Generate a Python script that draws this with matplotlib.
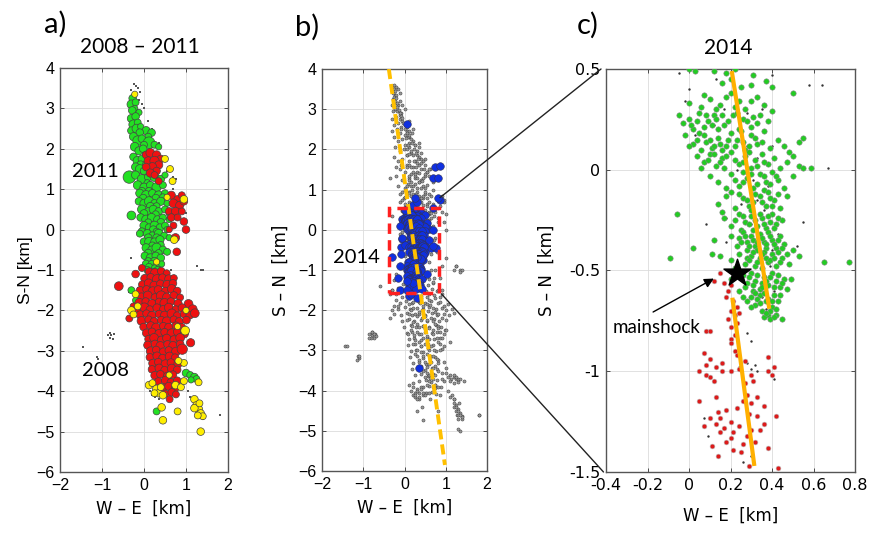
import matplotlib
matplotlib.use('Agg')
import matplotlib.pyplot as plt
from matplotlib.patches import Rectangle, ConnectionPatch, FancyArrowPatch

#------------------------------------------------------------------------------
# panel a) events 2008-2011 (x, y, marker size)
a_green = [(-0.27,3.25,30),(-0.3,3.1,40),(-0.2,3.15,25),(-0.22,3.0,20),(-0.28,2.95,30),(-0.12,2.9,20),
           (-0.3,2.75,35),(-0.2,2.8,30),(-0.25,2.6,45),(-0.15,2.65,25),(-0.3,2.45,30),(-0.18,2.5,40),
           (-0.08,2.55,20),(0.05,2.45,35),(0.18,2.4,30),(0.1,2.3,25),(-0.1,2.4,30),(-0.25,2.3,35),
           (-0.15,2.2,50),(-0.05,2.25,30),(0.12,2.15,70),(0.25,2.1,25),(0.35,2.05,20),(0.0,2.1,25),
           (-0.22,2.05,40),(-0.12,1.95,35),(-0.02,2.0,30),(0.05,1.85,25),(-0.25,1.8,30),(-0.15,1.7,45),
           (-0.05,1.75,30),(-0.08,1.6,35),(0.05,1.6,30),(-0.2,1.55,35),(-0.1,1.5,40),(0.0,1.45,30),
           (-0.35,1.3,80),(-0.2,1.35,35),(-0.05,1.25,45),(0.1,1.3,30),(0.25,1.3,40),(0.4,1.25,30),
           (0.5,1.35,20),(0.08,1.15,25),(-0.15,1.1,40),(0.0,1.05,35),(0.15,1.1,30),(0.3,1.05,45),
           (0.45,1.1,25),(-0.05,0.95,30),(0.12,0.95,30),(-0.1,0.9,35),(0.05,0.85,45),(0.2,0.9,30),
           (0.35,0.85,40),(0.5,0.9,25),(0.28,0.78,30),(0.45,0.8,25),(-0.02,0.78,30),(-0.12,0.7,30),
           (0.0,0.65,35),(0.12,0.7,45),(0.25,0.65,30),(0.4,0.7,35),(0.55,0.65,20),(0.15,0.58,30),
           (0.3,0.58,25),(-0.05,0.5,40),(0.1,0.45,30),(0.22,0.5,35),(0.35,0.45,30),(0.5,0.5,25),
           (0.6,0.4,20),(0.0,0.4,30),(0.28,0.38,25),(-0.3,0.35,40),(-0.08,0.3,30),(0.05,0.25,40),
           (0.18,0.3,35),(0.32,0.25,30),(0.45,0.3,25),(0.6,0.25,20),(0.4,0.18,30),(0.1,0.18,25),
           (0.0,0.1,35),(0.12,0.05,30),(0.25,0.1,40),(0.38,0.05,30),(0.5,0.1,25),(0.55,0.0,20),
           (0.22,0.0,30),(0.3,-0.05,25),(-0.05,-0.05,30),(-0.1,-0.1,25),(0.08,-0.1,35),(0.2,-0.15,30),
           (0.35,-0.1,40),(0.48,-0.15,25),(0.1,-0.2,30),(0.3,-0.2,30),(0.6,-0.2,20),(0.0,-0.3,30),
           (0.12,-0.3,40),(0.25,-0.3,30),(0.38,-0.25,35),(0.2,-0.4,30),(0.4,-0.38,25),(0.05,-0.45,35),
           (0.18,-0.5,30),(0.3,-0.45,45),(0.45,-0.5,30),(0.55,-0.55,25),(0.1,-0.58,30),(0.35,-0.58,25),
           (0.02,-0.65,30),(0.15,-0.7,35),(0.28,-0.65,30),(0.4,-0.7,30),(0.1,-0.78,25),(0.25,-0.78,30),
           (0.05,-0.85,30),(0.18,-0.85,25),(0.3,-0.9,30),(0.42,-0.85,20),(0.12,-0.92,25),(0.25,-0.95,20),
           (0.08,-1.0,25),(0.2,-1.05,30),(0.32,-1.0,25),(0.15,-1.2,20),(0.3,-1.15,25),
           (-0.3,-1.5,25),(-0.2,-1.75,20),(1.0,-3.55,30),(1.1,-3.6,25),(1.2,-3.65,30),(1.25,-3.7,25),
           (1.12,-3.72,20),(0.3,-4.5,25)]

a_red = [(0.05,1.85,30),(0.15,1.9,40),(0.3,1.85,35),(0.4,1.75,30),(0.1,1.7,35),(0.25,1.7,45),
         (0.35,1.6,35),(0.2,1.55,40),(0.05,1.55,30),(0.3,1.45,30),(0.15,1.4,35),(0.25,1.35,25),
         (0.35,1.2,25),(0.65,0.85,35),(0.8,0.75,30),(0.9,0.85,25),(0.7,0.65,40),(0.85,0.6,35),
         (0.95,0.7,30),(0.6,0.45,30),(0.75,0.45,35),(0.9,0.45,25),(0.65,0.3,30),(0.8,0.3,25),
         (0.95,0.2,30),(1.0,0.0,30),(0.7,0.1,25),(0.75,-0.2,35),(0.78,-0.55,30),(0.6,0.0,20),
         (-0.6,-1.4,40),(-0.2,-1.1,30),(-0.05,-0.95,25),(-0.25,-1.9,25),(-0.35,-2.2,25),
         (0.12,-1.04,30),(0.26,-1.07,40),(0.41,-1.03,30),(0.54,-1.08,25),
         (0.02,-1.21,35),(0.16,-1.18,30),(0.31,-1.23,45),(0.44,-1.19,30),(0.59,-1.22,35),(0.71,-1.2,25),
         (-0.04,-1.36,30),(0.11,-1.33,40),(0.24,-1.38,35),(0.39,-1.34,30),(0.56,-1.37,45),(0.69,-1.33,30),
         (-0.09,-1.51,35),(0.06,-1.48,30),(0.21,-1.53,45),(0.34,-1.49,35),(0.51,-1.52,30),(0.66,-1.47,40),(0.79,-1.52,30),
         (-0.06,-1.66,30),(0.09,-1.63,40),(0.26,-1.68,30),(0.41,-1.64,50),(0.54,-1.67,35),(0.71,-1.63,30),(0.86,-1.68,25),
         (-0.11,-1.81,40),(0.04,-1.78,30),(0.19,-1.83,35),(0.36,-1.79,30),(0.49,-1.82,45),(0.64,-1.78,30),(0.81,-1.83,35),(1.06,-1.84,40),
         (-0.16,-1.96,30),(0.01,-1.93,45),(0.14,-1.98,30),(0.31,-1.94,35),(0.46,-1.97,30),(0.59,-1.93,40),(0.76,-1.98,30),(0.91,-1.94,35),(1.16,-1.97,40),
         (-0.09,-2.11,35),(0.06,-2.08,30),(0.19,-2.13,40),(0.36,-2.09,30),(0.49,-2.12,35),(0.66,-2.08,45),(0.79,-2.13,30),(0.96,-2.09,35),(1.09,-2.12,30),(1.21,-2.07,40),
         (-0.06,-2.26,40),(0.11,-2.23,30),(0.24,-2.28,35),(0.41,-2.24,30),(0.54,-2.27,40),(0.71,-2.23,30),(0.84,-2.28,35),(1.01,-2.24,30),
         (-0.01,-2.41,30),(0.16,-2.38,35),(0.29,-2.43,45),(0.46,-2.39,30),(0.59,-2.42,35),(0.76,-2.38,30),(0.89,-2.43,40),
         (0.06,-2.56,35),(0.19,-2.53,30),(0.36,-2.58,40),(0.49,-2.54,30),(0.66,-2.57,45),(0.79,-2.53,30),(0.96,-2.58,35),
         (0.11,-2.71,30),(0.24,-2.68,40),(0.41,-2.73,30),(0.54,-2.69,35),(0.71,-2.72,30),(0.86,-2.68,40),(1.11,-2.8,35),
         (0.09,-2.86,35),(0.26,-2.83,30),(0.39,-2.88,40),(0.56,-2.84,30),(0.69,-2.87,35),(0.86,-2.83,30),
         (0.16,-3.01,40),(0.29,-2.98,30),(0.46,-3.03,35),(0.59,-2.99,30),(0.76,-3.02,40),(0.91,-2.96,55),
         (0.14,-3.16,30),(0.31,-3.13,35),(0.44,-3.18,30),(0.61,-3.14,40),(0.74,-3.17,30),
         (0.21,-3.31,35),(0.34,-3.28,30),(0.51,-3.33,40),(0.64,-3.29,30),(0.81,-3.32,35),
         (0.19,-3.46,30),(0.36,-3.43,35),(0.49,-3.48,30),(0.66,-3.44,40),(0.79,-3.47,30),
         (0.26,-3.61,35),(0.39,-3.58,30),(0.56,-3.63,35),(0.69,-3.59,30),
         (0.34,-3.76,30),(0.51,-3.73,35),(0.64,-3.78,30),(0.79,-3.74,30),
         (0.46,-3.91,30),(0.59,-3.88,35),(0.74,-3.93,30),(0.51,-4.06,25),(0.66,-4.03,30),(0.76,-4.08,25),(0.61,-4.2,25)]

a_yellow = [(0.12,-3.85,30),(0.2,-3.8,25),(0.3,-3.95,35),(0.35,-4.05,30),(0.4,-3.9,25),(0.45,-4.1,30),
            (0.25,-4.05,25),(0.42,-4.4,30),(0.45,-4.72,30),(0.8,-4.5,25),(0.75,-3.85,30),(0.88,-3.9,25),
            (0.95,-3.75,25),(1.3,-3.78,25),(1.2,-4.2,30),(1.25,-4.35,30),(1.3,-4.45,35),(1.2,-4.42,30),
            (1.35,-4.55,30),(1.4,-4.62,25),(1.28,-4.6,25),(1.32,-4.3,25),(1.35,-5.0,30),(0.98,-2.5,40),
            (0.95,-3.3,25),(0.82,-3.25,25),(-0.2,-1.6,25),(-0.15,-1.9,25),(-0.3,-2.0,30),(-0.25,-2.1,25),
            (0.6,-3.6,20),(0.5,1.75,25),(0.62,1.5,25),(0.68,1.2,25),(0.55,0.8,20),(0.95,0.75,30),
            (0.72,-0.25,30),(-0.22,3.35,20),(0.3,-0.8,20),(1.0,-2.0,20),(0.8,-2.4,20)]

a_gray = [(-0.25,3.6),(-0.2,3.55),(-0.15,3.5),(-0.1,3.4),(-0.3,3.45),(-0.12,3.2),(-0.05,3.1),(-0.08,2.9),
          (0.0,3.0),(0.1,2.7),(0.2,2.5),(0.35,2.15),(0.6,1.5),(0.7,1.3),(0.75,1.25),(0.55,1.45),(0.7,1.0),
          (0.55,0.25),(1.0,0.4),(-0.3,-0.7),(-0.8,-2.55),(-0.78,-2.62),(-0.85,-2.6),(-0.75,-2.7),
          (-0.82,-2.68),(-0.72,-2.58),(-1.1,-3.2),(-1.12,-3.15),(-1.45,-2.9),(1.25,-0.9),(1.35,-1.0),
          (1.4,-1.0),(0.65,-1.0),(1.8,-4.6),(-0.3,-1.5),(-0.35,-1.55),(-0.15,-1.45),(0.2,-4.1),
          (0.25,-4.15),(0.35,-4.2),(0.15,-4.0),(1.2,-3.6),(1.3,-3.7),(1.05,-4.0),(1.1,-4.15),
          (1.25,-4.5),(1.3,-4.6),(1.4,-4.7)]

#------------------------------------------------------------------------------
# panel b) extra relocated events and 2014 events outside the zoom box
b_gray = [(-0.3,3.55),(-0.28,3.4),(-0.25,3.3),(-0.22,3.2),(-0.2,3.35),(-0.15,3.1),(-0.18,2.95),(-0.12,2.85),
          (-0.1,2.75),(-0.05,2.7),(0.0,2.6),(0.05,2.55),(0.1,2.45),(-0.08,2.5),(0.0,2.35),(0.08,2.3),
          (0.15,2.25),(0.2,2.2),(0.25,2.1),(0.12,2.05),(0.05,2.0),(0.3,1.95),(0.4,1.9),(0.2,1.85),
          (0.35,1.8),(0.45,1.7),(0.5,1.6),(0.3,1.65),(0.15,1.55),(0.4,1.5),(0.55,1.45),(0.25,1.4),
          (0.6,1.35),(0.45,1.3),(0.1,1.25),(0.35,1.2),(0.2,1.1),(0.5,1.05),(0.0,1.0),(0.3,0.95),
          (0.6,0.9),(0.15,0.85),(0.4,0.8),(-0.05,0.75),(0.25,0.7),(0.55,0.6),(0.05,0.55),(0.2,0.4),
          (0.45,0.35),(0.3,0.15),(0.0,-0.2),(0.4,-0.5),(0.6,-0.8),(0.5,-1.2),(0.7,-1.3),(0.8,-1.5),
          (0.9,-1.6),(0.6,-1.6),(0.1,-1.7),(0.2,-1.8),(0.3,-1.75),(0.45,-1.9),(0.55,-1.85),(0.7,-1.95),
          (0.15,-2.0),(0.25,-2.1),(0.35,-2.05),(0.5,-2.15),(0.65,-2.2),(0.8,-2.1),(0.05,-2.25),(0.2,-2.3),
          (0.3,-2.35),(0.45,-2.4),(0.6,-2.45),(0.75,-2.35),(0.15,-2.5),(0.3,-2.55),(0.4,-2.6),(0.55,-2.65),
          (0.7,-2.6),(0.85,-2.55),(0.25,-2.75),(0.35,-2.8),(0.5,-2.85),(0.65,-2.9),(0.8,-2.8),(0.3,-3.0),
          (0.4,-3.05),(0.55,-3.1),(0.7,-3.15),(0.35,-3.25),(0.5,-3.3),(0.6,-3.35),(0.75,-3.4),(0.45,-3.5),
          (0.55,-3.55),(0.65,-3.6),(0.7,-3.7),(0.6,-3.75),(0.75,-3.85),(0.2,-3.9),(0.3,-4.0),(0.45,-4.05),
          (0.25,-4.1),(0.35,-4.15),(0.8,-3.9),(0.9,-3.7),(1.05,-3.65),(1.1,-3.75),(1.2,-3.8),(1.35,-3.7),
          (1.45,-3.75),(1.25,-3.65),(1.2,-4.3),(1.25,-4.4),(1.3,-4.5),(1.35,-4.6),(1.4,-4.65),(1.3,-4.7),
          (1.2,-4.2),(1.15,-4.1),(1.8,-4.6),(1.3,-4.95),(-1.4,-2.9),(-1.1,-3.15),(-1.15,-3.25),(-0.8,-2.55),
          (-0.75,-2.6),(-0.7,-2.65),(-0.85,-2.7),(1.25,-0.9),(1.35,-1.05),(1.2,-1.0),(-0.25,-1.25),
          (-0.35,-1.6),(0.9,-1.5),(1.0,-0.7),
          (-0.26,3.5),(-0.24,3.45),(-0.21,3.28),(-0.19,3.15),(-0.17,3.05),(-0.14,2.98),(-0.11,2.9),(-0.09,2.82),
          (-0.06,2.78),(-0.03,2.65),(0.02,2.5),(0.06,2.4),(0.12,2.35),(0.03,2.28),(0.18,2.15),(0.08,2.12),
          (0.22,2.02),(0.15,1.95),(0.28,1.9),(0.1,1.88),(0.32,1.75),(0.22,1.72),(0.4,1.65),(0.12,1.62),
          (0.28,1.55),(0.48,1.52),(0.2,1.45),(0.35,1.42),(0.5,1.38),(0.1,1.35),(0.3,1.3),(0.42,1.22),
          (0.15,1.18),(0.25,1.15),(0.55,1.12),(0.05,1.1),(0.4,1.05),(0.18,0.98),(0.5,0.95),(0.1,0.92),
          (0.28,0.88),(0.45,0.85),(0.0,0.82),(0.35,0.75),(0.2,0.72),(0.6,0.7),(0.1,0.65),(0.45,0.62),(0.3,0.6),
          (0.05,-1.6),(0.25,-1.65),(0.4,-1.7),(0.6,-1.75),(0.75,-1.7),(0.1,-1.85),(0.38,-1.82),(0.62,-1.88),
          (0.85,-1.8),(0.2,-1.95),(0.42,-2.0),(0.58,-2.02),(0.75,-2.05),(0.1,-2.1),(0.3,-2.15),(0.42,-2.2),
          (0.55,-2.25),(0.7,-2.28),(0.9,-2.2),(0.18,-2.4),(0.35,-2.42),(0.5,-2.48),(0.68,-2.5),(0.82,-2.45),
          (0.08,-2.6),(0.22,-2.62),(0.45,-2.7),(0.6,-2.72),(0.78,-2.68),(0.9,-2.7),(0.2,-2.85),(0.4,-2.9),
          (0.58,-2.95),(0.72,-2.98),(0.85,-3.0),(0.25,-3.1),(0.45,-3.15),(0.62,-3.2),(0.78,-3.22),(0.4,-3.4),
          (0.55,-3.42),(0.68,-3.45),(0.82,-3.5),(0.5,-3.65),(0.62,-3.68),(0.75,-3.62),(0.55,-3.85),(0.68,-3.9),
          (0.4,-3.95),(0.5,-4.1),(0.3,-4.2),(0.6,-4.05),(0.85,-4.1),(0.9,-3.55),(1.0,-3.45),(0.95,-2.9),
          (1.0,-2.5),(0.95,-1.9),(0.85,-1.2),(0.75,-1.0),(0.9,-0.9),(0.65,-0.6),(0.72,0.35),(0.8,0.2)]

b_blue = [(0.05,2.62),(0.75,1.55),(0.85,1.58),(0.7,1.3),(0.8,1.28),(0.85,0.75),(0.8,0.78),(0.7,0.55),
          (-0.3,-0.68),(0.35,-3.45),(0.7,-0.4),(0.68,0.0),(-0.1,-1.5),(-0.15,-1.2),(0.05,-1.5),(0.55,-1.1),
          (-0.05,-0.2),(-0.08,-0.6),(0.0,0.5),(0.1,-1.65),(0.2,0.62),(0.3,0.7),(0.25,0.8),(0.15,-1.6),
          (0.3,-1.7),(-0.12,0.1),(-0.1,-0.9),(0.6,-0.25)]

fault_b_x = [-0.38, 0.98]
fault_b_y = [4.0, -5.85]

zoom_box_x = [-0.38, 0.84]
zoom_box_y = [-1.58, 0.53]

#------------------------------------------------------------------------------
# panel c) 2014 sequence
c_green = [(0.0,0.5),(0.03,0.49),(0.12,0.49),(0.18,0.48),(0.22,0.5),(0.31,0.47),(0.37,0.44),(0.3,0.42),
           (0.2,0.45),(0.25,0.41),(0.16,0.43),(0.4,0.41),(0.5,0.38),
           (-0.05,0.27),(0.0,0.33),(0.07,0.37),(0.1,0.35),(0.15,0.32),(0.2,0.38),(0.24,0.34),(0.27,0.3),
           (0.33,0.36),(0.36,0.32),(0.3,0.34),(0.22,0.31),(0.18,0.36),(0.06,0.31),(0.13,0.3),
           (-0.03,0.23),(0.0,0.25),(0.05,0.28),(0.09,0.24),(0.12,0.27),(0.17,0.22),(0.21,0.27),(0.26,0.25),
           (0.3,0.21),(0.34,0.27),(0.38,0.24),(0.24,0.2),(0.14,0.2),(0.07,0.21),(0.4,0.29),(0.33,0.23),(0.02,0.2),
           (-0.02,0.17),(0.02,0.13),(0.05,0.18),(0.08,0.14),(0.11,0.11),(0.14,0.16),(0.18,0.12),(0.2,0.18),
           (0.23,0.15),(0.27,0.1),(0.3,0.17),(0.33,0.13),(0.36,0.19),(0.39,0.11),(0.43,0.15),(0.46,0.12),
           (0.53,0.14),(0.55,0.16),(0.48,0.09),(0.06,0.1),(0.16,0.1),(0.25,0.19),
           (0.04,0.07),(0.07,0.04),(0.1,0.08),(0.13,0.02),(0.16,0.06),(0.2,0.09),(0.24,0.03),(0.27,0.07),
           (0.3,0.01),(0.32,0.05),(0.35,0.08),(0.38,0.03),(0.41,0.06),(0.44,0.01),(0.47,0.04),(0.53,0.02),
           (0.55,0.01),(0.59,0.01),(0.5,0.07),(0.17,0.01),
           (0.1,-0.03),(0.14,-0.06),(0.2,-0.02),(0.24,-0.08),(0.28,-0.04),(0.31,-0.09),(0.34,-0.02),(0.37,-0.06),
           (0.4,-0.01),(0.43,-0.05),(0.46,-0.09),(0.5,-0.03),(0.26,-0.01),(0.18,-0.09),(0.36,-0.1),
           (0.14,-0.17),(0.18,-0.13),(0.22,-0.19),(0.26,-0.14),(0.29,-0.18),(0.32,-0.12),(0.35,-0.16),(0.38,-0.11),
           (0.41,-0.15),(0.44,-0.19),(0.47,-0.13),(0.2,-0.11),(0.3,-0.2),(0.16,-0.21),(0.4,-0.18),
           (-0.06,-0.22),(0.17,-0.24),(0.2,-0.28),(0.24,-0.22),(0.27,-0.26),(0.3,-0.23),(0.33,-0.28),(0.35,-0.24),
           (0.37,-0.29),(0.4,-0.22),(0.42,-0.27),(0.45,-0.25),(0.25,-0.3),(0.31,-0.3),(0.39,-0.26),
           (0.12,-0.35),(0.2,-0.33),(0.23,-0.38),(0.26,-0.31),(0.28,-0.36),(0.3,-0.33),(0.32,-0.38),(0.34,-0.32),
           (0.36,-0.36),(0.38,-0.31),(0.4,-0.35),(0.42,-0.39),(0.44,-0.33),(0.46,-0.37),(0.5,-0.4),(0.33,-0.4),
           (0.28,-0.4),(0.24,-0.34),(0.37,-0.39),
           (-0.09,-0.44),(0.02,-0.39),(0.11,-0.42),(0.15,-0.43),(0.2,-0.45),(0.24,-0.42),(0.27,-0.47),(0.3,-0.43),
           (0.32,-0.48),(0.34,-0.44),(0.36,-0.41),(0.38,-0.46),(0.4,-0.42),(0.42,-0.48),(0.45,-0.44),(0.48,-0.47),
           (0.53,-0.43),(0.65,-0.46),(0.77,-0.46),(0.28,-0.44),(0.35,-0.49),(0.22,-0.49),
           (0.26,-0.52),(0.28,-0.56),(0.3,-0.51),(0.32,-0.55),(0.34,-0.59),(0.36,-0.53),(0.38,-0.57),(0.4,-0.51),
           (0.42,-0.55),(0.44,-0.58),(0.46,-0.54),(0.49,-0.54),(0.31,-0.6),(0.35,-0.56),(0.27,-0.58),(0.2,-0.54),
           (0.3,-0.63),(0.32,-0.67),(0.34,-0.62),(0.35,-0.7),(0.37,-0.65),(0.38,-0.72),(0.4,-0.68),(0.41,-0.62),
           (0.39,-0.7),(0.42,-0.72),(0.36,-0.73),(0.33,-0.64),(0.45,-0.74),(0.43,-0.65),
           (0.01,0.22),(0.04,0.24),(0.08,0.27),(0.11,0.22),(0.13,0.25),(0.16,0.27),(0.19,0.24),(0.23,0.28),
           (0.28,0.24),(0.31,0.26),(0.0,0.12),(0.04,0.15),(0.07,0.17),(0.1,0.15),(0.12,0.12),(0.15,0.13),
           (0.19,0.15),(0.22,0.12),(0.26,0.14),(0.29,0.12),(0.32,0.16),(0.35,0.14),(0.06,0.01),(0.09,0.05),
           (0.12,0.08),(0.15,0.04),(0.18,0.07),(0.22,0.05),(0.26,0.04),(0.29,0.09),(0.33,0.02),(0.36,0.04),
           (0.22,-0.05),(0.26,-0.06),(0.3,-0.02),(0.33,-0.07),(0.36,-0.03),(0.39,-0.07),(0.42,-0.03),
           (0.24,-0.12),(0.28,-0.15),(0.31,-0.16),(0.34,-0.13),(0.37,-0.18),(0.39,-0.14),(0.43,-0.12),
           (0.22,-0.25),(0.26,-0.23),(0.29,-0.27),(0.32,-0.25),(0.34,-0.22),(0.36,-0.27),(0.38,-0.23),
           (0.41,-0.29),(0.43,-0.24),(0.25,-0.36),(0.27,-0.33),(0.29,-0.38),(0.31,-0.35),(0.33,-0.36),
           (0.35,-0.34),(0.37,-0.37),(0.39,-0.33),(0.41,-0.37),(0.43,-0.35),(0.45,-0.39),(0.29,-0.45),
           (0.31,-0.41),(0.33,-0.46),(0.35,-0.42),(0.37,-0.44),(0.39,-0.45),(0.41,-0.44),(0.43,-0.41),
           (0.44,-0.46),(0.47,-0.42),(0.29,-0.53),(0.31,-0.57),(0.33,-0.52),(0.35,-0.58),(0.37,-0.55),
           (0.39,-0.53),(0.41,-0.58),(0.43,-0.52),(0.45,-0.56),(0.47,-0.59),(0.32,-0.61),(0.34,-0.66),
           (0.36,-0.61),(0.38,-0.64),(0.4,-0.65),(0.42,-0.69),(0.44,-0.62),(0.37,-0.71),(0.39,-0.74),
           (0.41,-0.73),(0.24,-0.6),(0.26,-0.63),(0.28,-0.65),(0.3,-0.68)]

c_red = [(0.15,-0.51),(0.12,-0.55),(0.17,-0.56),(0.2,-0.57),(0.19,-0.6),(0.18,-0.63),(0.21,-0.65),(0.23,-0.68),
         (0.2,-0.7),(0.22,-0.72),(0.24,-0.71),(0.19,-0.74),(0.23,-0.76),(0.2,-0.78),(0.22,-0.82),(0.08,-0.8),
         (0.1,-0.8),(0.2,-0.84),(0.22,-0.9),(0.2,-0.86),(0.07,-0.91),(0.1,-0.94),(0.08,-0.97),(0.13,-0.98),
         (0.16,-0.96),(0.2,-1.0),(0.23,-0.92),(0.24,-0.99),(0.27,-0.95),(0.05,-1.0),(0.08,-1.02),(0.1,-1.03),
         (0.12,-1.05),(0.16,-1.0),(0.38,-0.93),(0.41,-0.98),(0.38,-1.0),(0.4,-1.02),(0.3,-1.02),(0.31,-1.05),
         (0.27,-1.06),(0.13,-1.13),(0.05,-1.15),(0.14,-1.2),(0.15,-1.23),(0.18,-1.19),(0.2,-1.25),(0.23,-1.18),
         (0.26,-1.15),(0.28,-1.12),(0.3,-1.16),(0.33,-1.13),(0.36,-1.17),(0.29,-1.21),(0.33,-1.22),(0.36,-1.26),
         (0.42,-1.22),(0.1,-1.23),(0.13,-1.26),(0.17,-1.28),(0.21,-1.3),(0.24,-1.27),(0.28,-1.32),(0.3,-1.29),
         (0.26,-1.36),(0.18,-1.35),(0.21,-1.39),(0.11,-1.37),(0.15,-1.3),(0.34,-1.29),(0.25,-1.4),(0.38,-1.38),
         (0.32,-1.35),(0.14,-1.42),(0.29,-1.47),(0.43,-1.48),(0.2,-1.33),(0.07,-1.27)]

c_black = [(-0.05,0.48),(0.0,0.4),(0.13,0.45),(0.4,0.47),(0.58,0.42),(0.64,0.42),(-0.02,0.34),(0.17,0.3),
           (0.28,0.28),(0.35,0.3),(0.12,0.22),(0.03,0.17),(0.28,0.12),(0.33,0.06),(0.4,0.12),(0.67,0.01),
           (0.23,0.0),(0.31,-0.05),(0.38,-0.08),(0.33,-0.15),(0.25,-0.17),(0.36,-0.2),(0.18,-0.24),(0.55,-0.26),
           (0.08,-0.27),(0.3,-0.27),(0.43,-0.32),(0.4,-0.4),(0.52,-0.38),(0.18,-0.36),(0.34,-0.45),(0.39,-0.48),
           (0.41,-0.6),(0.37,-0.69),(0.35,-0.63),(0.28,-0.81),(0.3,-0.85),(0.24,-0.91),(0.24,-0.98),(0.28,-0.96),
           (0.3,-0.99),(0.33,-1.0),(0.32,-0.97),(0.26,-1.06),(0.41,-1.04),(0.07,-1.23),(0.09,-1.32),(0.3,-1.42),
           (0.26,-1.45),(0.35,-0.35),(0.29,-0.08)]

fault_c_north_x = [0.206, 0.387]
fault_c_north_y = [0.49, -0.69]
fault_c_south_x = [0.209, 0.315]
fault_c_south_y = [-0.635, -1.47]

mainshock_x = 0.23
mainshock_y = -0.51

# arrow pointing to the mainshock: tail, head
arrow_tail = (-0.173, -0.706)
arrow_head = (0.12, -0.54)

#------------------------------------------------------------------------------
def split(points):
    return [p[0] for p in points], [p[1] for p in points]

def style_axes(ax, xlim, ylim, xticks, yticks, tick_font):
    ax.set_xlim(xlim)
    ax.set_ylim(ylim)
    ax.set_xticks(xticks)
    ax.set_yticks(yticks)
    ax.grid(True, color='#dcdcdc', linewidth=0.6)
    ax.set_axisbelow(True)
    ax.tick_params(direction='in', top=True, right=True, length=3, width=0.6,
                   labelsize=11.5, colors='#333333', labelcolor='black', pad=4)
    for lab in ax.get_xticklabels() + ax.get_yticklabels():
        lab.set_fontfamily(tick_font)
    for sp in ax.spines.values():
        sp.set_color('#555555')
        sp.set_linewidth(1.0)

W, H = 874, 539
fig = plt.figure(figsize=(W/100, H/100), dpi=100)

ax_a = fig.add_axes([60/W, 67/H, 168/W, 404/H])
ax_b = fig.add_axes([322/W, 68/H, 165/W, 402/H])
ax_c = fig.add_axes([606/W, 67/H, 249/W, 403/H])

edge = '#444444'

#a)
gx, gy = split(a_gray)
ax_a.scatter(gx, gy, s=2, c='#555555', marker='s', linewidths=0)
ax_a.scatter([p[0] for p in a_green], [p[1] for p in a_green], s=[p[2] for p in a_green],
             c='#22e022', edgecolors=edge, linewidths=0.5, zorder=3)
ax_a.scatter([p[0] for p in a_red], [p[1] for p in a_red], s=[p[2] for p in a_red],
             c='#ee1111', edgecolors=edge, linewidths=0.5, zorder=4)
ax_a.scatter([p[0] for p in a_yellow], [p[1] for p in a_yellow], s=[p[2] for p in a_yellow],
             c='#ffee00', edgecolors=edge, linewidths=0.5, zorder=5)
style_axes(ax_a, (-2, 2), (-6, 4), [-2, -1, 0, 1, 2], range(-6, 5), 'Liberation Sans')
ax_a.set_ylabel('S-N [km]', fontsize=12.5, family='Liberation Sans', labelpad=2)
ax_a.set_xlabel('W – E  [km]', fontsize=12, family='DejaVu Sans', labelpad=5)
ax_a.text(-1.72, 1.43, '2011', fontsize=14.5, family='Lato', va='center', ha='left')
ax_a.text(-1.48, -3.49, '2008', fontsize=14.5, family='Lato', va='center', ha='left')

#b)
all_x, all_y = [], []
for pts in [a_green, a_red, a_yellow, a_gray, b_gray, c_green, c_red, c_black]:
    px, py = split(pts)
    all_x += px
    all_y += py
ax_b.scatter(all_x, all_y, s=5, c='#9a9a9a', edgecolors='#3a3a3a', linewidths=0.35, zorder=2)
bx, by = split(c_green + c_red + b_blue)
ax_b.scatter(bx, by, s=30, c='#1030e0', edgecolors='#333355', linewidths=0.4, zorder=3)
ax_b.plot(fault_b_x, fault_b_y, color='#ffc000', lw=2.8, linestyle=(0, (2.6, 1.3)), zorder=4)
ax_b.add_patch(Rectangle((zoom_box_x[0], zoom_box_y[0]), zoom_box_x[1]-zoom_box_x[0],
                         zoom_box_y[1]-zoom_box_y[0], fill=False, edgecolor='#ff2020',
                         lw=2.5, linestyle=(0, (3, 1.8)), zorder=5))
style_axes(ax_b, (-2, 2), (-6, 4), [-2, -1, 0, 1, 2], range(-6, 5), 'Liberation Sans')
ax_b.set_ylabel('S – N  [km]', fontsize=12, family='DejaVu Sans', labelpad=6)
ax_b.set_xlabel('W – E  [km]', fontsize=12, family='DejaVu Sans', labelpad=5)
ax_b.text(-1.73, -0.68, '2014', fontsize=14.5, family='Lato', va='center', ha='left', zorder=6)

#c)
kx, ky = split(c_black)
ax_c.scatter(kx, ky, s=3, c='#333333', linewidths=0, zorder=2)
cx, cy = split(c_green)
ax_c.scatter(cx, cy, s=15, c='#22cc22', edgecolors='#888888', linewidths=0.4, zorder=3)
rx, ry = split(c_red)
ax_c.scatter(rx, ry, s=12, c='#dd1a1a', edgecolors='#bbbbbb', linewidths=0.4, zorder=3)
ax_c.plot(fault_c_north_x, fault_c_north_y, color='#ffb000', lw=3, solid_capstyle='butt', zorder=4)
ax_c.plot(fault_c_south_x, fault_c_south_y, color='#ffb000', lw=3, solid_capstyle='butt', zorder=4)
ax_c.scatter([mainshock_x], [mainshock_y], s=420, marker='*', c='black', zorder=6)
arrow = FancyArrowPatch(arrow_tail, arrow_head, arrowstyle='-|>', mutation_scale=14,
                        color='black', lw=1.0, shrinkA=0, shrinkB=0, zorder=6)
ax_c.add_patch(arrow)
ax_c.text(-0.37, -0.785, 'mainshock', fontsize=13.5, family='Lato', va='center', ha='left')
style_axes(ax_c, (-0.4, 0.8), (-1.5, 0.5), [-0.4, -0.2, 0, 0.2, 0.4, 0.6, 0.8],
           [-1.5, -1, -0.5, 0, 0.5], 'DejaVu Sans')
ax_c.set_yticklabels(['-1.5', '-1', '-0.5', '0', '0.5'])
ax_c.set_xticklabels(['-0.4', '-0.2', '0', '0.2', '0.4', '0.6', '0.8'])
ax_c.set_ylabel('S – N  [km]', fontsize=12, family='DejaVu Sans', labelpad=10)
ax_c.set_xlabel('W – E  [km]', fontsize=12, family='DejaVu Sans', labelpad=10)

# connectors from zoom box to panel c
for xy_b, xy_c in [((0.86, 0.8), (-0.02, 1.0)), ((0.9, -1.6), (-0.01, 0.0))]:
    con = ConnectionPatch(xyA=xy_b, coordsA=ax_b.transData, xyB=xy_c, coordsB=ax_c.transAxes,
                          color='#222222', lw=1.0)
    fig.add_artist(con)

fig.text(55/W, 1-24/H, 'a)', fontsize=21, family='Lato', ha='center', va='center')
fig.text(307/W, 1-27/H, 'b)', fontsize=21, family='Lato', ha='center', va='center')
fig.text(588/W, 1-25/H, 'c)', fontsize=21, family='Lato', ha='center', va='center')
fig.text(140/W, 1-47/H, '2008 – 2011', fontsize=15, family='Lato', ha='center', va='center')
fig.text(728/W, 1-48/H, '2014', fontsize=15, family='Lato', ha='center', va='center')

fig.savefig('out.png', dpi=100)
